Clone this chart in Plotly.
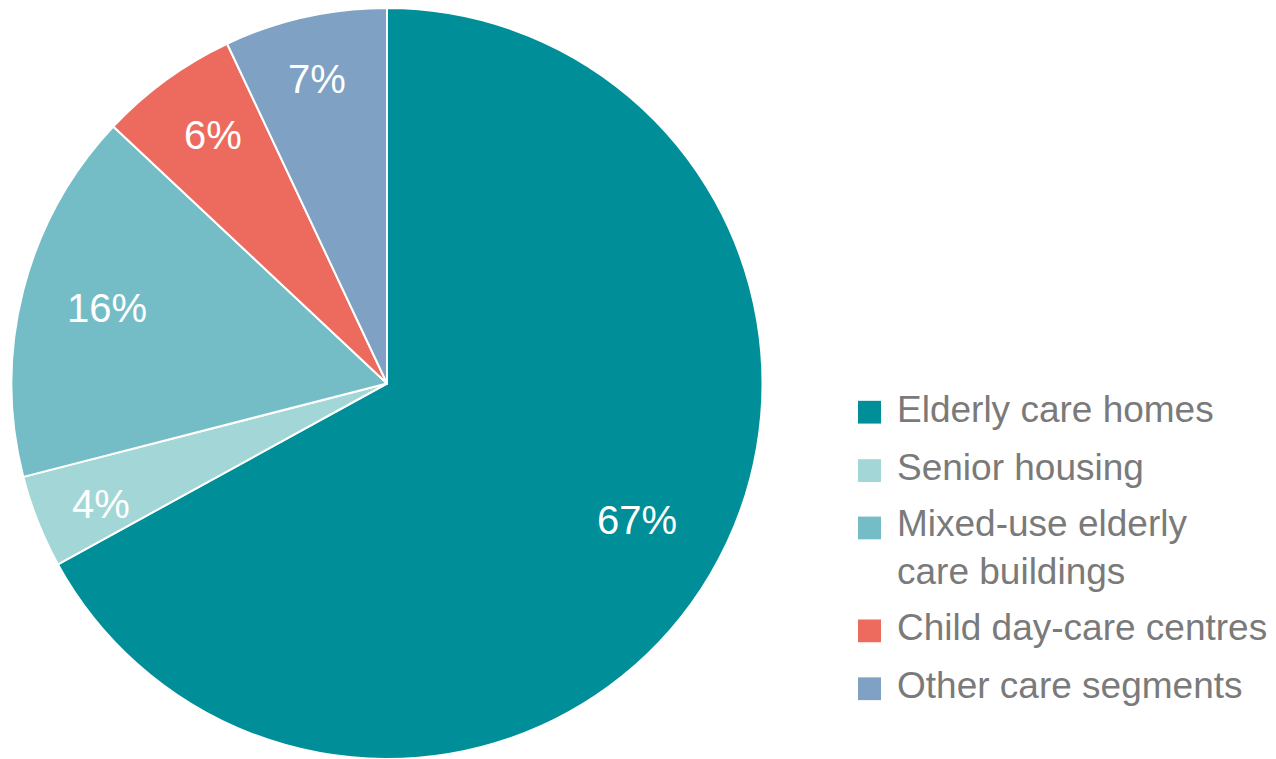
import math
import plotly.graph_objects as go

# Share of care property segments
segments = [
    "Elderly care homes",
    "Senior housing",
    "Mixed-use elderly<br>care buildings",
    "Child day-care centres",
    "Other care segments",
]
shares = [67, 4, 16, 6, 7]
colors = ["#008F98", "#A3D6D6", "#74BDC6", "#EC6B5E", "#7EA1C4"]

# Label placement: distance from centre (fraction of radius) and
# angular nudge (degrees) away from each slice's bisector
label_radius = [0.755, 0.823, 0.775, 0.824, 0.85]
label_nudge = [-2.4, -0.9, 1.7, 1.7, 0.0]

W, H = 1276, 759
TOP = 8
FONT = "Arial"
TEXT_GREY = "#7A7A7A"

pie_w = 774
fig = go.Figure(
    go.Pie(
        labels=segments,
        values=shares,
        sort=False,
        direction="clockwise",
        rotation=0,
        marker=dict(colors=colors, line=dict(color="white", width=2)),
        textinfo="none",
        domain=dict(x=[0, pie_w / W], y=[0, 1]),
        showlegend=False,
        hoverinfo="label+percent",
    )
)

# Percentage labels placed along each slice's bisector
cx = pie_w / 2
R = (H - TOP) / 2
cy = TOP + R
total = sum(shares)
cum = 0
for val, frac, nudge in zip(shares, label_radius, label_nudge):
    mid = (cum + val / 2) / total * 2 * math.pi + math.radians(nudge)
    cum += val
    px = cx + frac * R * math.sin(mid)
    py = cy - frac * R * math.cos(mid)
    fig.add_annotation(
        xref="paper", yref="paper",
        x=px / W, y=1 - py / H,
        xanchor="center", yanchor="middle",
        text=f"{round(val / total * 100)}%", showarrow=False,
        font=dict(family=FONT, size=40, color="white"),
    )

# Legend drawn as swatches and labels to the right of the pie
legend_rows = [408.5, 467.5, 525.5, 629.5, 688.0]
sw = 23
line_gap = 46
for name, col, yc in zip(segments, colors, legend_rows):
    fig.add_shape(
        type="rect", xref="paper", yref="paper",
        x0=858 / W, x1=(858 + sw) / W,
        y0=1 - (yc + sw / 2) / H, y1=1 - (yc - sw / 2) / H,
        fillcolor=col, line=dict(width=0),
    )
    n_lines = name.count("<br>") + 1
    ty = yc + (n_lines - 1) * line_gap / 2 - 3
    fig.add_annotation(
        xref="paper", yref="paper",
        x=895 / W, y=1 - ty / H,
        xanchor="left", yanchor="middle",
        text=name, showarrow=False, align="left",
        font=dict(family=FONT, size=37, color=TEXT_GREY),
    )

fig.update_layout(
    width=W, height=H,
    margin=dict(l=0, r=0, t=TOP, b=0),
    paper_bgcolor="white",
    plot_bgcolor="white",
)

fig.write_html("out.html")
